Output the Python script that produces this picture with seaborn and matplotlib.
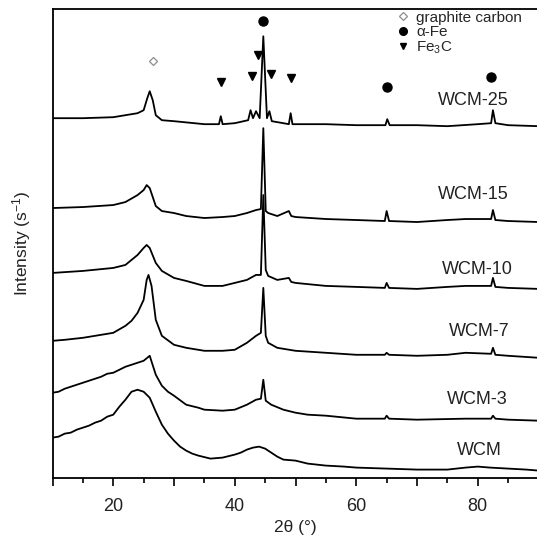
import matplotlib
matplotlib.use("Agg")
import matplotlib.pyplot as plt
import seaborn as sns
import pandas as pd
from matplotlib.lines import Line2D

# XRD patterns (2theta in degrees, intensity already stacked with offsets, arbitrary units)
wcm_x = [10, 11, 12, 13, 14, 15, 16, 17, 18, 19, 20, 21, 22, 23, 24, 25, 26, 27, 28, 29, 30, 31, 32, 33,
         34, 36, 38, 40, 41, 42, 43, 44, 45, 46, 47, 48, 50, 52, 55, 58, 60, 65, 70, 75, 78, 80, 82,
         85, 88, 90]
wcm_y = [40, 41, 44, 45, 48, 50, 52, 55, 57, 61, 63, 71, 78, 86, 88, 86, 80, 66, 53, 44, 37, 31, 27, 24,
         22, 19, 20, 23, 25, 28, 30, 31, 29, 25, 21, 18, 17, 14, 12, 11, 10, 9, 8, 8, 10, 11, 10,
         9, 8, 7]

wcm3_x = [10, 11, 12, 13, 14, 15, 16, 17, 18, 19, 20, 21, 22, 23, 24, 25, 26, 27, 28, 29, 30, 32, 34,
          35, 38, 40, 42, 43.5, 44.3, 44.7, 45.1, 46, 48, 50, 52, 55, 60, 64.7, 65.0, 65.4, 70, 78,
          82.2, 82.5, 82.9, 85, 90]
wcm3_y = [85, 86, 89, 91, 93, 95, 97, 99, 101, 104, 105, 108, 111, 113, 115, 117, 122, 103, 92, 86, 82, 73, 70,
          68, 67, 68, 73, 78, 79, 98, 77, 73, 68, 65, 63, 62, 59, 59, 62, 59, 58, 59,
          59, 62, 59, 58, 57]

wcm7_x = [10, 12, 15, 18, 20, 22, 23, 24, 25, 25.5, 25.8, 26.3, 27, 28, 30, 32, 35, 38, 40, 42, 43.5,
          44.3, 44.7, 45.1, 45.5, 47, 50, 55, 60, 64.7, 65.0, 65.4, 70, 75, 78, 82.2, 82.5, 82.9, 85, 90]
wcm7_y = [137, 138, 140, 143, 145, 152, 157, 165, 178, 198, 203, 192, 158, 142, 133, 130, 127, 127, 128, 135, 142,
          145, 190, 142, 135, 130, 127, 125, 123, 123, 125, 123, 122, 123, 125, 124, 130, 123, 122, 120]

wcm10_x = [10, 15, 20, 22, 24, 25, 25.5, 26, 27, 28, 30, 32, 35, 38, 40, 42, 43.5, 44.3, 44.7, 45.1,
           45.5, 47, 48.9, 49.3, 50, 55, 60, 64.7, 65.0, 65.4, 70, 75, 78, 82.2, 82.5, 82.9, 85, 90]
wcm10_y = [205, 207, 210, 213, 223, 230, 233, 230, 215, 207, 200, 197, 192, 192, 195, 198, 203, 203, 283, 208,
           202, 198, 200, 196, 195, 192, 191, 190, 195, 190, 189, 191, 192, 192, 200, 191, 190, 189]

wcm15_x = [10, 15, 20, 22, 24, 25, 25.5, 26, 27, 28, 30, 32, 35, 38, 40, 42, 43.5, 44.3, 44.7, 45.1,
           45.5, 47, 48.9, 49.3, 50, 55, 60, 64.7, 65.0, 65.4, 70, 75, 78, 82.2, 82.5, 82.9, 85, 90]
wcm15_y = [270, 271, 273, 276, 283, 288, 293, 290, 272, 267, 265, 262, 260, 261, 262, 265, 268, 269, 350, 267,
           265, 262, 267, 262, 261, 259, 258, 257, 267, 257, 256, 258, 259, 259, 268, 258, 257, 256]

wcm25_x = [10, 15, 20, 24, 25, 25.6, 26, 26.5, 27, 28, 30, 35, 37.4, 37.7, 38, 40, 42.2, 42.6, 43, 43.5,
           44.1, 44.7, 45.3, 45.7, 46.1, 48, 48.9, 49.2, 49.5, 55, 60, 64.8, 65.1, 65.5, 70, 75, 80,
           82.2, 82.5, 82.9, 85, 90]
wcm25_y = [360, 360, 361, 365, 368, 380, 387, 378, 363, 358, 357, 354, 354, 362, 354, 355, 358, 368, 360, 367,
           360, 442, 360, 367, 357, 355, 354, 365, 354, 354, 353, 353, 359, 353, 353, 352, 354,
           355, 368, 355, 353, 352]

sample_names = ["WCM", "WCM-3", "WCM-7", "WCM-10", "WCM-15", "WCM-25"]
label_x = [80.2, 80.0, 80.3, 79.9, 79.3, 79.3]
label_y = [27, 78, 146, 208, 284, 378]

# phase markers
graphite_x = [26.5]
graphite_y = [417]
alpha_fe_x = [44.6, 65.0, 82.2]
alpha_fe_y = [457, 391, 401]
fe3c_x = [37.7, 42.9, 43.8, 46.0, 49.2]
fe3c_y = [396, 402, 423, 404, 400]

series = [(wcm_x, wcm_y), (wcm3_x, wcm3_y), (wcm7_x, wcm7_y),
          (wcm10_x, wcm10_y), (wcm15_x, wcm15_y), (wcm25_x, wcm25_y)]
frames = []
for name, (xs, ys) in zip(sample_names, series):
    frames.append(pd.DataFrame({"two_theta": xs, "intensity": ys, "sample": name}))
df = pd.concat(frames, ignore_index=True)

sns.set_theme(style="ticks")
plt.rcParams["font.family"] = ["Liberation Sans", "DejaVu Sans"]
plt.rcParams["mathtext.fontset"] = "custom"
plt.rcParams["mathtext.rm"] = "Liberation Sans"
plt.rcParams["mathtext.it"] = "Liberation Sans:italic"

fig = plt.figure(figsize=(5.37, 5.36), dpi=100)
ax = fig.add_axes([0.0978, 0.109, 0.905, 0.8735])

sns.lineplot(data=df, x="two_theta", y="intensity", units="sample", estimator=None,
             sort=False, color="black", linewidth=1.3, ax=ax, legend=False)

# phase markers
ax.plot(graphite_x, graphite_y, ls="", marker="D", ms=4.5, mfc="white", mec="#8c8c8c", mew=0.9)
ax.plot(alpha_fe_x, alpha_fe_y, ls="", marker="o", ms=6.5, color="black")
ax.plot(fe3c_x, fe3c_y, ls="", marker="v", ms=5.5, color="black")

for name, lx, ly in zip(sample_names, label_x, label_y):
    ax.text(lx, ly, name, fontsize=13, ha="center", va="center", color="#222222")

# legend
handles = [
    Line2D([], [], ls="", marker="D", ms=4, mfc="white", mec="#8c8c8c", mew=0.9),
    Line2D([], [], ls="", marker="o", ms=5.5, color="black"),
    Line2D([], [], ls="", marker="v", ms=4.5, color="black"),
]
leg = ax.legend(handles, ["graphite carbon", "α-Fe", "Fe$_3$C"], loc="upper left",
                bbox_to_anchor=(0.708, 0.997), frameon=False, fontsize=11,
                handlelength=0.8, handletextpad=0.5, borderpad=0, borderaxespad=0,
                labelspacing=0.02)

ax.set_xlim(10, 90)
ax.set_ylim(0, 469)
ax.set_xticks([10, 20, 30, 40, 50, 60, 70, 80, 90])
ax.set_xticklabels(["", "20", "", "40", "", "60", "", "80", ""])
ax.set_xticks([15, 25, 35, 45, 55, 65, 75, 85], minor=True)
ax.set_yticks([])
ax.tick_params(axis="x", which="major", direction="out", length=6, width=1.2,
               labelsize=13, pad=9, color="black", labelcolor="#222222")
ax.tick_params(axis="x", which="minor", direction="out", length=3.5, width=1.2, color="black")
for side in ["left", "bottom", "top", "right"]:
    ax.spines[side].set_linewidth(1.3)
    ax.spines[side].set_color("black")

ax.set_xlabel("2θ (°)", fontsize=12.5, labelpad=3, color="#222222")
ax.set_ylabel("Intensity (s$^{-1}$)", fontsize=12.5, labelpad=14, color="#222222")

fig.savefig("out.png", dpi=100)
